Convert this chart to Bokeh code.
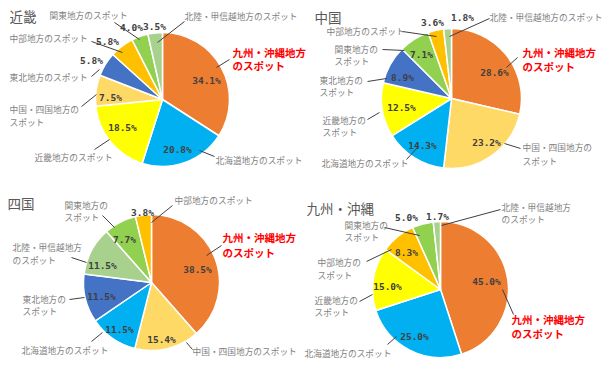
import math
from bokeh.plotting import figure
from bokeh.models import Range1d, ColumnDataSource
from bokeh.core.properties import value
from bokeh.embed import file_html
from bokeh.resources import INLINE

# ---------------- data ----------------
pie_titles = ["近畿", "中国", "四国", "九州・沖縄"]

kinki_cats = ["九州・沖縄", "北海道", "近畿", "中国・四国", "東北", "中部", "関東", "北陸・甲信越"]
kinki_vals = [34.1, 20.8, 18.5, 7.5, 5.8, 5.8, 4.0, 3.5]

chugoku_cats = ["九州・沖縄", "中国・四国", "北海道", "近畿", "東北", "関東", "中部", "北陸・甲信越"]
chugoku_vals = [28.6, 23.2, 14.3, 12.5, 8.9, 7.1, 3.6, 1.8]

shikoku_cats = ["九州・沖縄", "中国・四国", "北海道", "東北", "北陸・甲信越", "関東", "中部"]
shikoku_vals = [38.5, 15.4, 11.5, 11.5, 11.5, 7.7, 3.8]

kyushu_cats = ["九州・沖縄", "北海道", "近畿", "中部", "関東", "北陸・甲信越"]
kyushu_vals = [45.0, 25.0, 15.0, 8.3, 5.0, 1.7]

cat_colors = {
    "九州・沖縄": "#ED7D31",
    "北海道": "#00B0F0",
    "近畿": "#FFFF00",
    "中国・四国": "#FFD966",
    "東北": "#4472C4",
    "中部": "#FFC000",
    "関東": "#92D050",
    "北陸・甲信越": "#A9D18E",
}

# ---------------- layout (pixel positions of the picture) ----------------
pie_centers = [(163, 100), (452, 99), (152, 283), (441, 290)]
pie_radius = [67, 70, 68, 68]

title_pos = [(10, 16), (315, 17), (8, 203), (307, 208)]

pct_pos = [
    [(207, 81), (178, 150), (123, 128), (111, 98), (92, 61), (108, 42), (132, 28), (155, 27)],
    [(495, 73), (487, 143), (423, 146), (402, 108), (403, 78), (422, 55), (433, 23), (463, 18)],
    [(198, 270), (162, 340), (120, 330), (102, 297), (103, 266), (125, 240), (143, 213)],
    [(487, 282), (415, 337), (388, 287), (407, 253), (407, 218), (438, 217)],
]

red_labels = [
    ("九州・沖縄地方", 233, 53), ("のスポット", 233, 66),
    ("九州・沖縄地方", 523, 53), ("のスポット", 523, 67),
    ("九州・沖縄地方", 223, 238), ("のスポット", 223, 253),
    ("九州・沖縄地方", 512, 320), ("のスポット", 512, 334),
]

grey_labels = [
    ("北海道地方のスポット", 216, 161),
    ("近畿地方のスポット", 35, 158),
    ("中国・四国地方の", 10, 110), ("スポット", 10, 123),
    ("東北地方のスポット", 10, 78),
    ("中部地方のスポット", 10, 39),
    ("関東地方のスポット", 50, 16),
    ("北陸・甲信越地方のスポット", 185, 17),

    ("中国・四国地方の", 523, 148), ("スポット", 523, 162),
    ("北海道地方のスポット", 322, 164),
    ("近畿地方の", 323, 121), ("スポット", 323, 133),
    ("東北地方の", 320, 81), ("スポット", 320, 93),
    ("関東地方の", 335, 50), ("スポット", 335, 62),
    ("中部地方のスポット", 327, 32),
    ("北陸・甲信越地方のスポット", 490, 18),

    ("中国・四国地方のスポット", 193, 352),
    ("北海道地方のスポット", 22, 351),
    ("東北地方の", 23, 300), ("スポット", 23, 312),
    ("北陸・甲信越地方", 13, 248), ("のスポット", 13, 261),
    ("関東地方の", 65, 206), ("スポット", 65, 218),
    ("中部地方のスポット", 175, 201),

    ("北海道地方のスポット", 305, 354),
    ("近畿地方の", 315, 301), ("スポット", 315, 313),
    ("中部地方の", 318, 263), ("スポット", 318, 276),
    ("関東地方の", 345, 226), ("スポット", 345, 238),
    ("北陸・甲信越地方", 502, 208), ("のスポット", 502, 220),
]

leaders = [
    (217, 68, 230, 60), (200, 151, 215, 157), (110, 140, 95, 150), (97, 95, 82, 107),
    (100, 70, 92, 77), (92, 42, 123, 53), (115, 23, 140, 40), (185, 22, 158, 43),
    (507, 68, 518, 58), (505, 144, 521, 149), (407, 160, 418, 148), (368, 120, 380, 113),
    (368, 82, 387, 79), (383, 50, 405, 51), (403, 32, 437, 37), (490, 19, 450, 37),
    (207, 256, 222, 246), (187, 343, 193, 350), (103, 333, 92, 342), (85, 298, 70, 300),
    (87, 263, 72, 258), (115, 228, 103, 216), (173, 206, 152, 223),
    (503, 290, 514, 315), (397, 337, 388, 345), (373, 295, 360, 302), (392, 250, 367, 262),
    (420, 236, 385, 228), (501, 210, 442, 226),
]

# ---------------- figure ----------------
W, H = 604, 360
X0, Y0 = 1, 1
p = figure(width=W, height=H, x_range=Range1d(X0, X0 + W), y_range=Range1d(-Y0 - H, -Y0),
           x_axis_type=None, y_axis_type=None, toolbar_location=None,
           output_backend="svg", min_border=0, outline_line_color=None)
p.grid.visible = False
p.background_fill_color = "white"

pies = [(kinki_cats, kinki_vals), (chugoku_cats, chugoku_vals),
        (shikoku_cats, shikoku_vals), (kyushu_cats, kyushu_vals)]

for i, (cats, vals) in enumerate(pies):
    cx, cy = pie_centers[i]
    total = sum(vals)
    starts, ends, cols = [], [], []
    cum = 0.0
    for c, v in zip(cats, vals):
        a0 = math.pi / 2 - 2 * math.pi * cum / total
        cum += v
        a1 = math.pi / 2 - 2 * math.pi * cum / total
        starts.append(a1)
        ends.append(a0)
        cols.append(cat_colors[c])
    src = ColumnDataSource(dict(x=[cx] * len(vals), y=[-cy] * len(vals),
                                s=starts, e=ends, c=cols))
    p.wedge(x="x", y="y", radius=pie_radius[i], start_angle="s", end_angle="e",
            fill_color="c", line_color="white", line_width=1.5, source=src)

# leader lines
p.segment(x0=[l[0] for l in leaders], y0=[-l[1] for l in leaders],
          x1=[l[2] for l in leaders], y1=[-l[3] for l in leaders],
          line_color="#404040", line_width=1)

# percentage labels
px, py, pt = [], [], []
for i, (cats, vals) in enumerate(pies):
    for (x, y), v in zip(pct_pos[i], vals):
        px.append(x); py.append(-y); pt.append(f"{v:.1f}%")
p.text(x=px, y=py, text=pt, text_font=value("DejaVu Sans Mono"), text_font_style="bold",
       text_font_size=value("9.5px"), text_color="#404040", text_align="center",
       text_baseline="middle")

# category labels
p.text(x=[g[1] for g in grey_labels], y=[-g[2] for g in grey_labels],
       text=[g[0] for g in grey_labels], text_font=value("Noto Sans CJK JP"),
       text_font_size=value("8.7px"), text_color="#7F7F7F", text_align="left",
       text_baseline="middle")
p.text(x=[r[1] for r in red_labels], y=[-r[2] for r in red_labels],
       text=[r[0] for r in red_labels], text_font=value("Noto Sans CJK JP"),
       text_font_style="bold", text_font_size=value("10.5px"), text_color="#FF0000",
       text_align="left", text_baseline="middle")

# titles
p.text(x=[t[0] for t in title_pos], y=[-t[1] for t in title_pos], text=pie_titles,
       text_font=value("Noto Sans CJK JP"), text_font_size=value("13.5px"),
       text_color="#595959", text_align="left", text_baseline="middle")

open("out.html", "w").write(file_html(p, INLINE))
